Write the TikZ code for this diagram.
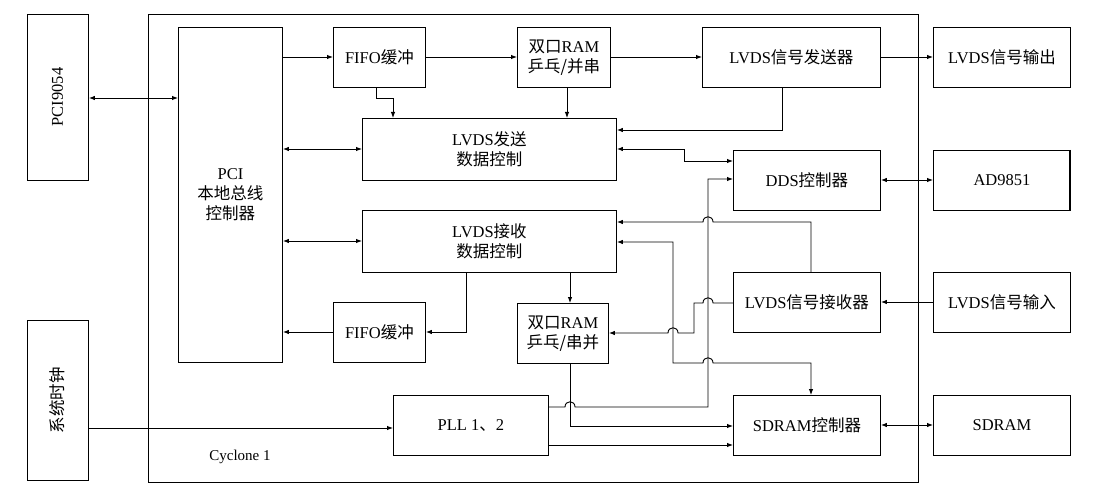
\documentclass[tikz,border=0pt]{standalone}
\usepackage{fontspec}
\setmainfont{Liberation Serif}
\newfontfamily\cjk{Noto Sans CJK SC}
\newcommand{\zh}[1]{{\cjk #1}}
\usetikzlibrary{arrows.meta}
\begin{document}
\begin{tikzpicture}[x=1pt,y=-1pt,
  box/.style={draw,line width=0.9pt,font=\fontsize{16.5}{20}\selectfont,align=center,inner sep=0pt},
  ln/.style={line width=0.9pt},
  ar/.style={ln,-{Latex[length=6pt,width=4.5pt]}},
  dar/.style={ln,{Latex[length=6pt,width=4.5pt]}-{Latex[length=6pt,width=4.5pt]}}]
\useasboundingbox (0,0) rectangle (1094,494);
\newcommand{\bx}[6]{\node[box,minimum width=#4-#2,minimum height=#5-#3,anchor=north west] (#1) at (#2,#3) {#6};}
\node[draw,line width=0.9pt,minimum width=770,minimum height=468,anchor=north west,inner sep=0pt] (cyc) at (148,14) {};
\node[font=\fontsize{15}{17}\selectfont] (cyl) at (240,457) {Cyclone 1};
\bx{pci}{27}{14}{88}{180}{}
\node[rotate=90,font=\fontsize{16.5}{20}\selectfont] (pcit) at (57.5,97) {PCI9054};
\bx{clk}{27}{320}{88}{480}{}
\node[rotate=90,font=\fontsize{16.5}{20}\selectfont] (clkt) at (57.5,400) {\zh{系统时钟}};
\bx{ctl}{178}{27}{282}{362}{PCI\\\zh{本地总线}\\\zh{控制器}}
\bx{fifo1}{333}{27}{425}{87}{FIFO\zh{缓冲}}
\bx{ram1}{517}{27}{610}{87}{\zh{双口}RAM\\\zh{乒乓/并串}}
\bx{tx}{702}{27}{880}{87}{LVDS\zh{信号发送器}}
\bx{out}{933}{27}{1070}{87}{LVDS\zh{信号输出}}
\bx{snd}{362}{118}{616}{180}{LVDS\zh{发送}\\\zh{数据控制}}
\bx{dds}{733}{150}{880}{210}{DDS\zh{控制器}}
\bx{ad}{933}{150}{1070}{210}{AD9851}
\bx{rcv}{362}{210}{616}{272}{LVDS\zh{接收}\\\zh{数据控制}}
\bx{rx}{733}{272}{880}{332}{LVDS\zh{信号接收器}}
\bx{inp}{933}{272}{1070}{332}{LVDS\zh{信号输入}}
\bx{fifo2}{333}{302}{425}{362}{FIFO\zh{缓冲}}
\bx{ram2}{517}{303}{608}{363}{\zh{双口}RAM\\\zh{乒乓/串并}}
\bx{pll}{393}{395}{548}{455}{PLL 1\zh{、}2}
\bx{sdc}{733}{395}{880}{455}{SDRAM\zh{控制器}}
\bx{sd}{933}{395}{1070}{455}{SDRAM}
\draw[line width=1.8pt] (1070,150)--(1070,210);
% connectors
\draw[dar] (pci.east|-0,98) -- (ctl.west|-0,98);
\draw[ar] (ctl.east|-0,57) -- (fifo1.west|-0,57);
\draw[ar] (fifo1.east|-0,57) -- (ram1.west|-0,57);
\draw[ar] (ram1.east|-0,57) -- (tx.west|-0,57);
\draw[ar] (tx.east|-0,57) -- (out.west|-0,57);
\draw[ar] (fifo1.south-|376,0) -- (376,98) -- (393,98) -- (snd.north-|393,0);
\draw[ar] (ram1.south-|567,0) -- (snd.north-|567,0);
\draw[ar] (tx.south-|782,0) -- (782,130) -- (snd.east|-0,130);
\draw[dar] (ctl.east|-0,149) -- (snd.west|-0,149);
\draw[dar] (snd.east|-0,149) -- (684,149) -- (684,161) -- (dds.west|-0,161);
\draw[dar] (ctl.east|-0,241) -- (rcv.west|-0,241);
\draw[ar] (rcv.south-|466,0) -- (466,332) -- (fifo2.east|-0,332);
\draw[ar] (fifo2.west|-0,332) -- (ctl.east|-0,332);
\draw[ar] (rcv.south-|570,0) -- (ram2.north-|570,0);
\draw[dar] (dds.east|-0,180) -- (ad.west|-0,180);
\draw[ar] (inp.west|-0,302) -- (rx.east|-0,302);
\draw[dar] (sdc.east|-0,425) -- (sd.west|-0,425);
\draw[ar] (clk.east|-0,428) -- (pll.west|-0,428);
% PLL -> DDS
\draw[ar] (pll.east|-0,407) -- (565,407) .. controls (565,400) and (575,400) .. (575,407) -- (708,407) -- (708,179) -- (dds.west|-0,179);
% receiver -> rcv ctrl
\draw[ar] (rx.north-|811,0) -- (811,222) -- (713,222) .. controls (713,215) and (703,215) .. (703,222) -- (rcv.east|-0,222);
% receiver -> ram2
\draw[ar] (rx.west|-0,303) -- (713,303) .. controls (713,296) and (703,296) .. (703,303) -- (694,303) -- (694,333) -- (678,333) .. controls (678,326) and (668,326) .. (668,333) -- (ram2.east|-0,333);
% rcv ctrl <-> sdram ctrl
\draw[dar] (rcv.east|-0,242) -- (673,242) -- (673,363) -- (703,363) .. controls (703,356) and (713,356) .. (713,363) -- (811,363) -- (sdc.north-|811,0);
% ram2 -> sdram ctrl
\draw[ar] (ram2.south-|570,0) -- (570,426) -- (sdc.west|-0,426);
\draw[ar] (pll.east|-0,445) -- (sdc.west|-0,445);
\end{tikzpicture}
\end{document}
